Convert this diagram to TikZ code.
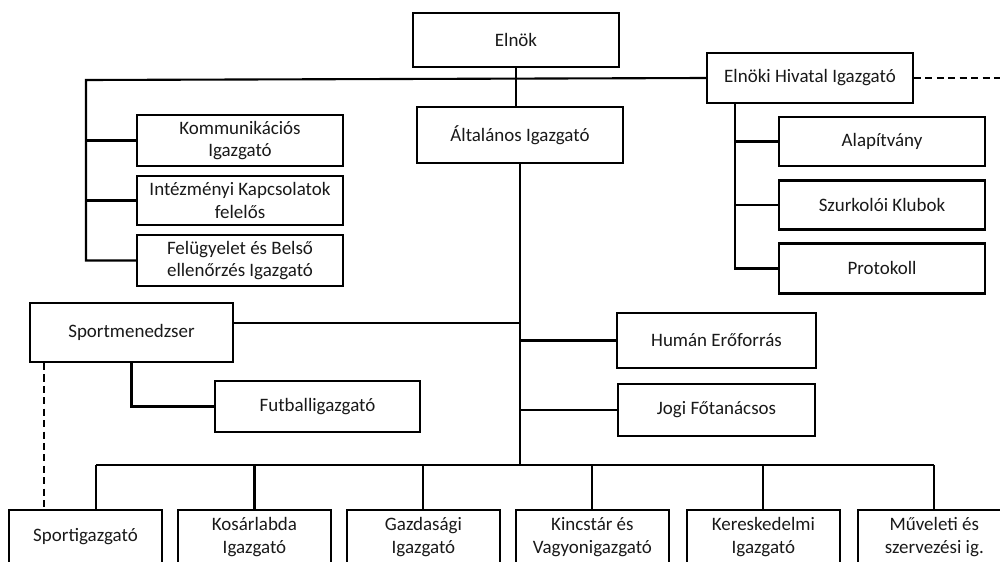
\documentclass[tikz,border=0pt]{standalone}
\usepackage{fontspec}
\setmainfont{Carlito}
\usetikzlibrary{positioning}

\begin{document}
\begin{tikzpicture}[x=0.02cm, y=-0.02cm, line width=1.2pt, node distance=1.2cm, on grid,
  unit/.style={draw, rectangle, minimum width=4.12cm, minimum height=1cm, align=center,
    text=black!90, font=\fontsize{10.8}{13}\selectfont},
  lower/.style={unit, minimum width=3.06cm, minimum height=1.08cm},
  staff/.style={dashed, dash pattern=on 4pt off 2.5pt}]
  \useasboundingbox (0,0) rectangle (1000,561);
  \clip (0,0) rectangle (1000,561);

  \node[unit, minimum height=1.08cm] (elnok) at (516,40) {Elnök};
  \node[unit, minimum height=1.12cm] (altal) at (520,135) {Általános Igazgató};
  \node[unit, minimum height=1.02cm] (komm) at (240,140.5) {Kommunikációs\\Igazgató};
  \node[unit, minimum height=0.98cm] (intez) [below=of komm] {Intézményi Kapcsolatok\\felelős};
  \node[unit, minimum height=1.02cm] (felug) [below=of intez] {Felügyelet és Belső\\ellenőrzés Igazgató};

  \node[unit] (hivatal) at (810,78) {Elnöki Hivatal Igazgató};
  \node[unit, minimum height=0.98cm] (alap) at (882,141.5) {Alapítvány};
  \node[unit, minimum height=0.98cm] (szurk) [below=1.27cm of alap] {Szurkolói Klubok};
  \node[unit] (proto) [below=1.27cm of szurk] {Protokoll};

  \node[unit, minimum width=4.06cm, minimum height=1.18cm] (sportm) at (131.5,332.5) {Sportmenedzser};
  \node[unit, minimum width=4.1cm, minimum height=1.02cm] (futball) at (317.5,406.5) {Futballigazgató};
  \node[unit, minimum width=3.98cm, minimum height=1.1cm] (human) at (716.5,340.5) {Humán Erőforrás};
  \node[unit, minimum width=3.94cm, minimum height=1.04cm] (jogi) [below=1.39cm of human] {Jogi Főtanácsos};

  \node[lower] (sportig) at (85.5,537) {Sportigazgató};
  \node[lower] (kosar) [right=3.38cm of sportig] {Kosárlabda\\Igazgató};
  \node[lower] (gazd) [right=3.38cm of kosar] {Gazdasági\\Igazgató};
  \node[lower] (kincs) [right=3.38cm of gazd] {Kincstár és\\Vagyonigazgató};
  \node[lower] (keresk) [right=3.42cm of kincs] {Kereskedelmi\\Igazgató};
  \node[lower] (muvel) [right=3.42cm of keresk] {Műveleti és\\szervezési ig.};

  \coordinate (lbar) at (86,80);
  \coordinate (rbar) at (735,0);
  \coordinate (smline) at (0,323);
  \coordinate (sdash) at (44,0);
  \coordinate (bus) at (96,465);
  \coordinate (offpage) at (1000,78);

  \draw (elnok.south) -- (elnok.south |- altal.north);
  \draw (hivatal.west) -- (lbar) |- (felug.west);
  \draw (lbar |- komm) -- (komm.west);
  \draw (lbar |- intez) -- (intez.west);
  \draw (hivatal.south -| rbar) |- (proto.west);
  \draw (rbar |- alap) -- (alap.west);
  \draw (rbar |- szurk) -- (szurk.west);
  \draw[staff] (hivatal.east) -- (offpage);

  \draw (altal.south) -- (altal.south |- bus);
  \draw (sportm.east |- smline) -- (altal.south |- smline);
  \draw (human.west) -- (human.west -| altal.south);
  \draw (jogi.west) -- (jogi.west -| altal.south);
  \draw (sportm.south) |- (futball.west);
  \draw[staff] (sportm.south -| sdash) -- (sportig.north -| sdash);

  \draw (bus) -- (bus -| muvel.north);
  \draw (bus) -- (bus |- sportig.north);
  \foreach \n in {kosar,gazd,kincs,keresk,muvel}
    \draw (\n.north) -- (\n.north |- bus);
\end{tikzpicture}
\end{document}
